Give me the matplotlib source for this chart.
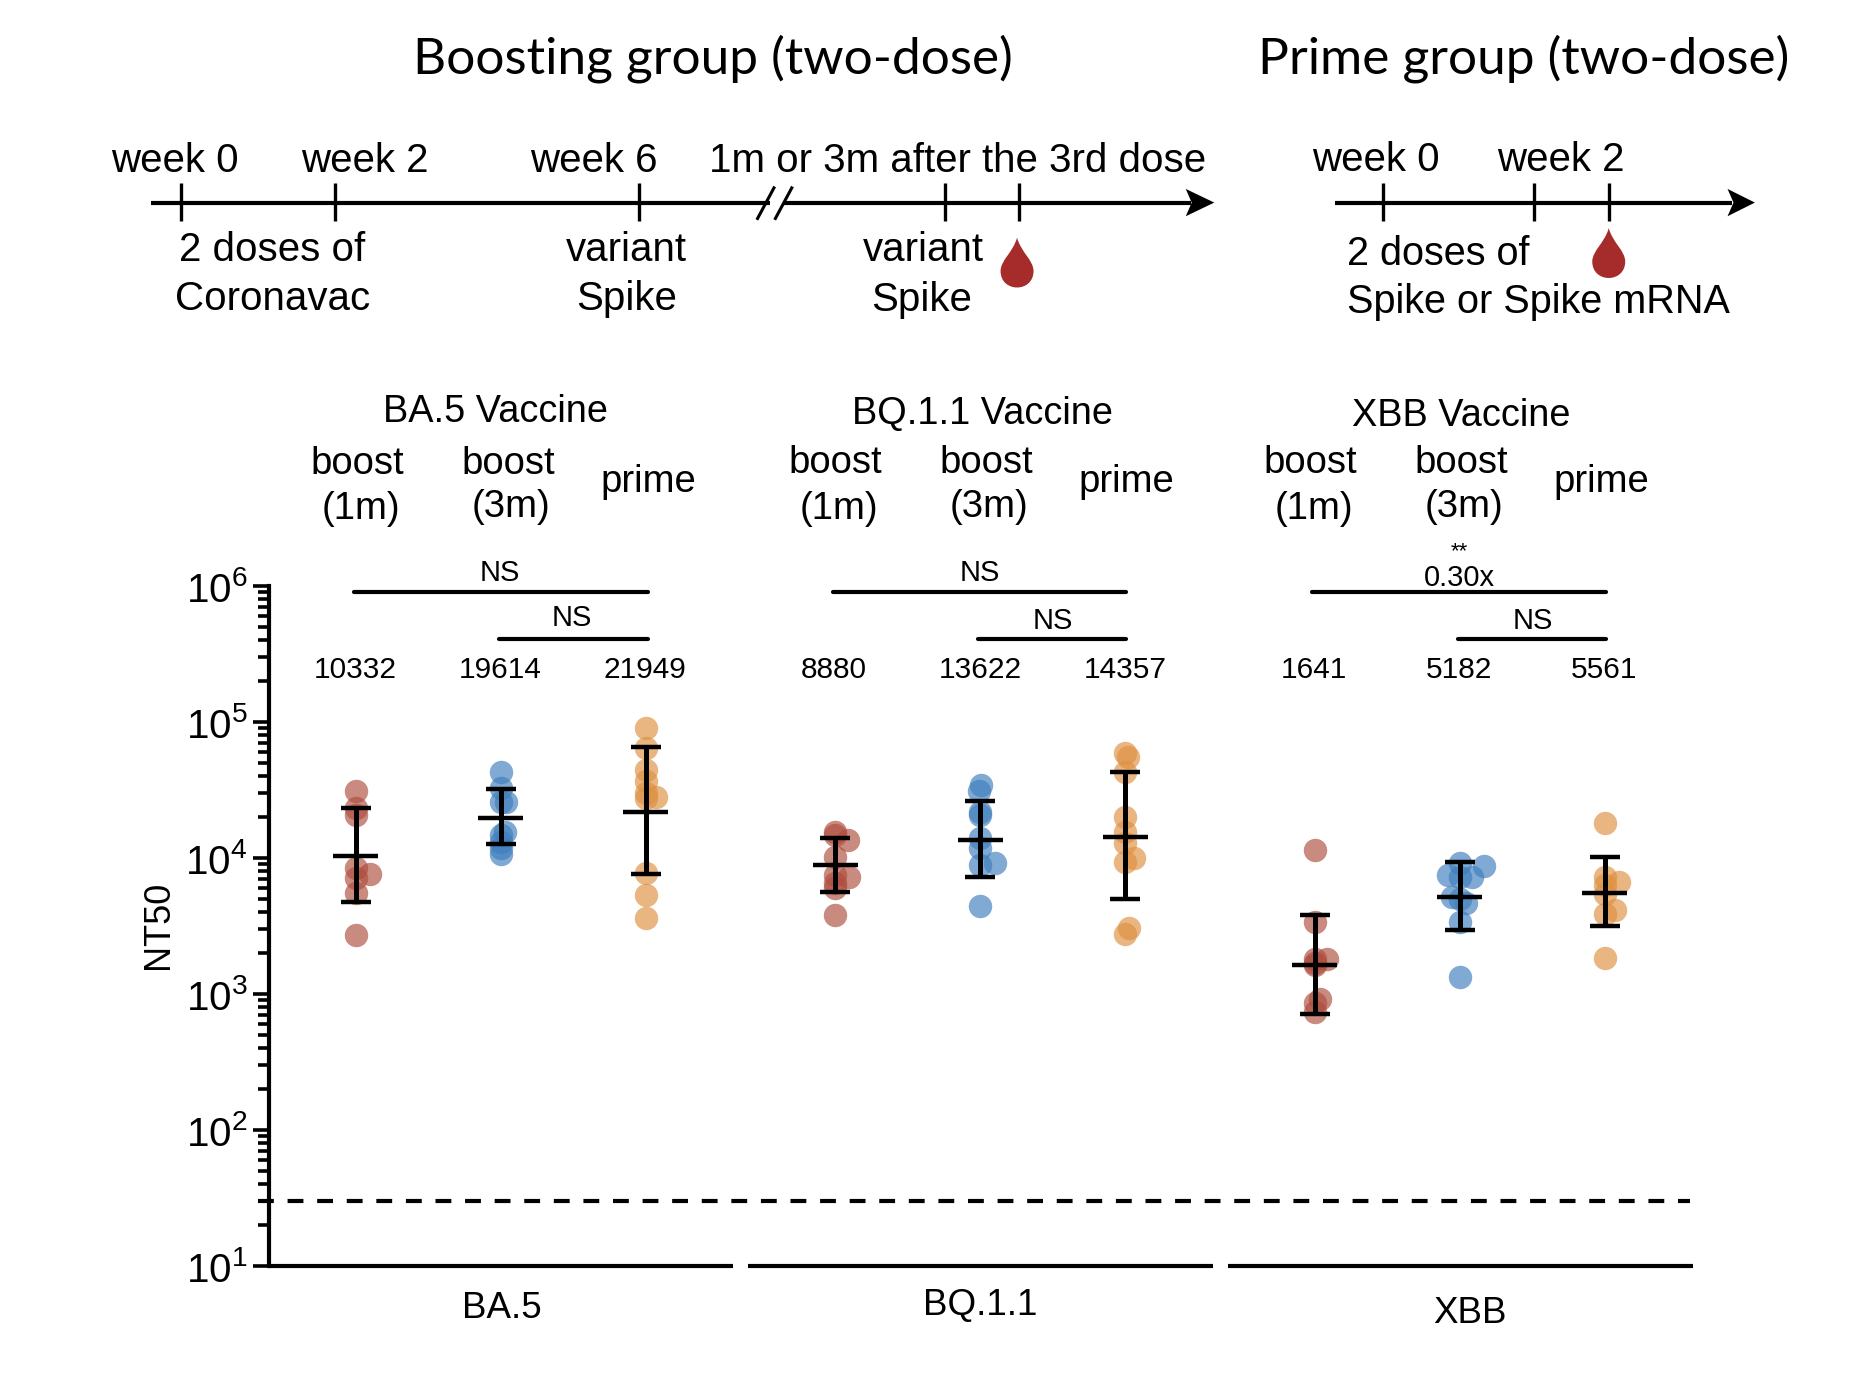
import matplotlib
matplotlib.use("Agg")
import matplotlib.pyplot as plt
import numpy as np
from matplotlib.path import Path
from matplotlib.patches import PathPatch, Polygon
from matplotlib.ticker import LogLocator, FuncFormatter, NullFormatter

plt.rcParams['font.family'] = ['Liberation Sans', 'DejaVu Sans']
plt.rcParams['mathtext.fontset'] = 'custom'
plt.rcParams['mathtext.rm'] = 'Liberation Sans'
plt.rcParams['mathtext.default'] = 'regular'

# ---------- data ----------
variants = ['BA.5', 'BQ.1.1', 'XBB']
vaccines = ['BA.5 Vaccine', 'BQ.1.1 Vaccine', 'XBB Vaccine']

ba5_boost1m = [31260, 23190, 20720, 8400, 7590, 7090, 5560, 2700]
ba5_boost3m = [42660, 32500, 25950, 25800, 15630, 14760, 13180, 11780, 10700]
ba5_prime = [90800, 64000, 44400, 37000, 29900, 27930, 27480, 7710, 5320, 3600]
bq_boost1m = [15630, 14760, 13560, 10230, 7500, 7210, 6520, 5980, 3810]
bq_boost3m = [34400, 31250, 21900, 20700, 13960, 11780, 8890, 9240, 4460]
bq_prime = [58900, 55600, 43100, 19900, 15630, 12820, 9400, 10050, 3040, 2760]
xbb_boost1m = [11450, 3400, 1800, 1700, 1800, 1634, 914, 853, 741]
xbb_boost3m = [9140, 8730, 7500, 7290, 7210, 5140, 4970, 4690, 3400, 1340]
xbb_prime = [18000, 7210, 6700, 6330, 5440, 4150, 3870, 1830]

geo_means = [10332, 19614, 21949, 8880, 13622, 14357, 1641, 5182, 5561]
err_upper = [23190, 32000, 65900, 14000, 26400, 43100, 3810, 9290, 10120]
err_lower = [4775, 12600, 7590, 5600, 7210, 5000, 716, 2940, 3160]

threshold = 30

all_groups = [ba5_boost1m, ba5_boost3m, ba5_prime,
              bq_boost1m, bq_boost3m, bq_prime,
              xbb_boost1m, xbb_boost3m, xbb_prime]

# ---------- layout ----------
W, H = 1863, 1389
UNIT_PX = 145.0
X0_PX = 355.7
GROUP_STEP = 479.5 / UNIT_PX
LEFT, RIGHT, TOP, BOTTOM = 269, 1693, 586, 1266
# horizontal swarm offsets, per group, per point
jitter_px = [
    [0, 0, 0, 0, 14, 0, 0, 0],
    [0, 0, 0, 5, 4, 0, 0, 0, 0],
    [0, 0, 0, 0, 0, 10, 0, 0, 0, 0],
    [0, 0, 13, 0, 0, 14, 0, 0, 0],
    [1, -1, 0, 0, 0, 0, 0, 15, 0],
    [0, 3, 0, 0, 0, 0, 0, 9, 4, 0],
    [0, 0, 0, 0, 12, 0, 5, 0, 0],
    [0, 24, -12, 12, 0, -8, 0, 6, 0, 0],
    [0, 0, 14, 0, 0, 10, 0, 0],
]
brick, blue, orange = '#AE4E3E', '#3E7DBD', '#DE9142'
colors = [brick, blue, orange]

fig = plt.figure(figsize=(W / 100, H / 100), dpi=100, facecolor='white')
ax = fig.add_axes([LEFT / W, 1 - BOTTOM / H, (RIGHT - LEFT) / W, (BOTTOM - TOP) / H])

xpos = [g * GROUP_STEP + i for g in range(3) for i in range(3)]
ax.set_xlim((LEFT - X0_PX) / UNIT_PX, (RIGHT - X0_PX) / UNIT_PX)
ax.set_yscale('log')
ax.set_ylim(10, 1e6)

for k, (x, vals) in enumerate(zip(xpos, all_groups)):
    xs = x + np.array(jitter_px[k]) / UNIT_PX
    ax.scatter(xs, vals, s=285, color=colors[k % 3], alpha=0.66, linewidths=0, zorder=3)

cap = 15 / UNIT_PX
mean_w = 22.5 / UNIT_PX
for x, m, up, lo in zip(xpos, geo_means, err_upper, err_lower):
    ax.plot([x, x], [lo, up], color='black', lw=3.6, solid_capstyle='butt', zorder=4)
    ax.plot([x - cap, x + cap], [up, up], color='black', lw=3.2, solid_capstyle='butt', zorder=4)
    ax.plot([x - cap, x + cap], [lo, lo], color='black', lw=3.2, solid_capstyle='butt', zorder=4)
    ax.plot([x - mean_w, x + mean_w], [m, m], color='black', lw=3.2, solid_capstyle='butt', zorder=4)

ax.plot([(258 - X0_PX) / UNIT_PX, (1690 - X0_PX) / UNIT_PX], [threshold, threshold],
        color='black', lw=3, dashes=(3.8, 3.3), dash_capstyle='butt', clip_on=False, zorder=2)

for s in ['top', 'right', 'bottom']:
    ax.spines[s].set_visible(False)
ax.spines['left'].set_linewidth(3)
ax.set_xticks([])
ax.yaxis.set_major_locator(LogLocator(base=10, numticks=10))
ax.yaxis.set_minor_locator(LogLocator(base=10, subs=range(2, 10), numticks=10))
ax.yaxis.set_minor_formatter(NullFormatter())
ax.yaxis.set_major_formatter(FuncFormatter(lambda v, p: r'$10^{%d}$' % round(np.log10(v))))
ax.tick_params(axis='y', which='major', length=11.5, width=2.6, labelsize=29, pad=4)
ax.tick_params(axis='y', which='minor', length=8, width=2.6)
ax.patch.set_alpha(0)

# baseline segments, one per variant
for g in range(3):
    a = (LEFT if g == 0 else 748 + (g - 1) * 480)
    b = 733 + g * 480
    ax.plot([(a - X0_PX) / UNIT_PX, (b - X0_PX) / UNIT_PX], [10, 10], color='black', lw=3,
            solid_capstyle='butt', clip_on=False, zorder=5)

# ---------- overlay, in the coordinates of the 1568 x 1169 view ----------
ov = fig.add_axes([0, 0, 1, 1], facecolor='none')
ov.set_xlim(0, 1568)
ov.set_ylim(1169, 0)
ov.axis('off')


def T(x, y, s, size=26, ha='center', **kw):
    ov.text(x, y + 2.5, s, fontsize=size, ha=ha, va='center', color='black', **kw)


def L(xs, ys, lw=2.4, **kw):
    ov.plot(xs, ys, color='black', lw=lw, solid_capstyle=kw.pop('cap', 'butt'), **kw)


# titles
T(600, 47, 'Boosting group (two-dose)', size=37, family=['Lato', 'DejaVu Sans'])
T(1282, 47, 'Prime group (two-dose)', size=37, family=['Lato', 'DejaVu Sans'])

# timeline 1
wk = 29
T(147, 133, 'week 0', wk)
T(307, 133, 'week 2', wk)
T(500, 133, 'week 6', wk)
T(806, 133, '1m or 3m after the 3rd dose', wk)
T(229, 208, '2 doses of', wk)
T(229, 249, 'Coronavac', wk)
T(527, 208, 'variant', wk)
T(527, 249, 'Spike', wk)
T(777, 208, 'variant', wk)
T(776, 250, 'Spike', wk)
L([127, 648], [170.5, 170.5], lw=3)
L([660, 1002], [170.5, 170.5], lw=3)
for x in [152, 282, 538, 795, 858]:
    L([x, x], [154, 186], lw=2.4)
L([637, 652], [185, 157], lw=2.2)
L([652, 667], [185, 157], lw=2.2)
ov.add_patch(Polygon([[998, 159], [1022, 170.5], [998, 182], [1003, 170.5]], closed=True, color='black', lw=0))

# timeline 2
T(1158, 132, 'week 0', wk)
T(1314, 132, 'week 2', wk)
T(1134, 211, '2 doses of', 28.5, ha='left')
T(1134, 252, 'Spike or Spike mRNA', 28.5, ha='left')
L([1124, 1458], [170.5, 170.5], lw=3)
for x in [1164, 1291, 1354]:
    L([x, x], [154, 186], lw=2.4)
ov.add_patch(Polygon([[1454, 159], [1477, 170.5], [1454, 182], [1459, 170.5]], closed=True, color='black', lw=0))


def drop(cx, top, h):
    r = h * 0.33
    verts = [(cx, top), (cx + r * 0.25, top + h * 0.3), (cx + r, top + h * 0.45), (cx + r, top + h - r),
             (cx + r, top + h + r * 0.33), (cx - r, top + h + r * 0.33), (cx - r, top + h - r),
             (cx - r, top + h * 0.45), (cx - r * 0.25, top + h * 0.3), (cx, top)]
    codes = [Path.MOVETO] + [Path.CURVE4] * 9
    ov.add_patch(PathPatch(Path(verts, codes), facecolor='#A52C2A', edgecolor='none'))


drop(856, 200, 42)
drop(1354, 192, 42)

# vaccine headers
vy = [344, 346, 348]
vx = [417, 827, 1230]
for name, x, y in zip(vaccines, vx, vy):
    T(x, y, name, 27.3)
for off, y2 in zip([0, 402, 802], [426, 426, 426]):
    T(301 + off, 388 if off == 0 else 387, 'boost', 27.5)
    T(304 + off, y2, '(1m)', 27.5)
    T(428 + off, 388 if off == 0 else 387, 'boost', 27.5)
    T(430 + off, 424, '(3m)', 27.5)
    T(546 + off, 403, 'prime', 27.5)

# significance
for a, b, y in [(298, 545, 498), (420, 545, 538),
                (701, 948, 498), (823, 948, 538),
                (1104, 1352, 498), (1227, 1352, 538)]:
    L([a, b], [y, y], lw=3, cap='round')
T(421, 480, 'NS', 21)
T(481, 518, 'NS', 21)
T(825, 480, 'NS', 21)
T(886, 520, 'NS', 21)
T(1228, 462, '**', 16)
T(1228, 484, '0.30x', 21)
T(1290, 520, 'NS', 21)

# geometric means as text
for m, x in zip(geo_means, [299, 421, 543, 702, 825, 947, 1106, 1228, 1350]):
    T(x, 561, str(m), 21.5)

# variant labels, y label
for name, x, y in zip(variants, [422, 825, 1237], [1099, 1096, 1103]):
    T(x, y, name, 26.5)
T(133, 776, 'NT50', 26, rotation=90)

fig.savefig('out.png', dpi=100, facecolor='white')
